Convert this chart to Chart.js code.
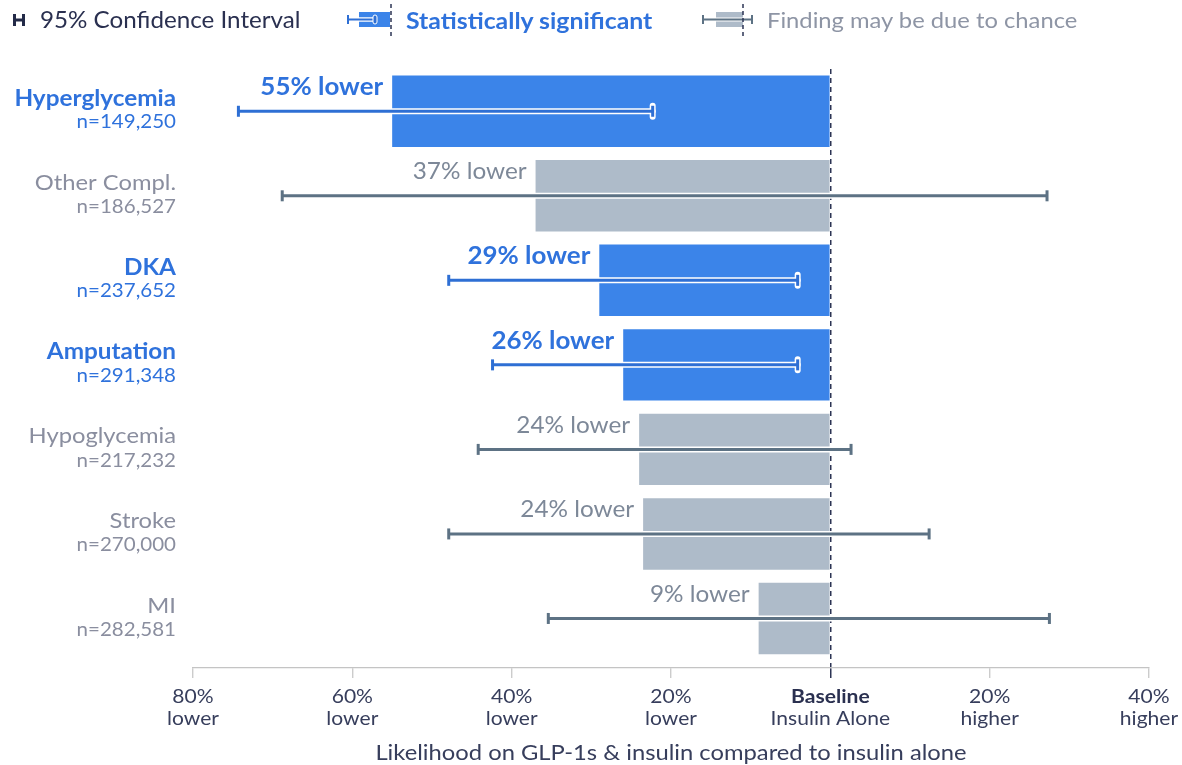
<!DOCTYPE html>
<html>
<head>
<meta charset="utf-8">
<script src="https://cdn.jsdelivr.net/npm/chart.js@4.4.1/dist/chart.umd.min.js"></script>
<style>
  html, body { margin: 0; padding: 0; background: #fff; }
  body { width: 1182px; height: 765px; position: relative; overflow: hidden; font-family: Lato, "Noto Sans", sans-serif; }
  #wrap { position: absolute; left: 0; top: 0; width: 1182px; height: 765px; }
  #legend { position: absolute; top: 0; left: 0; width: 1182px; height: 42px; }
  .li { position: absolute; top: 7px; white-space: nowrap; line-height: 26px; transform: scaleX(1.08); transform-origin: 0 50%; }
  .ico { position: absolute; }
</style>
</head>
<body>
<div id="wrap"><canvas id="c" width="1182" height="765"></canvas></div>
<div id="legend">
  <svg class="ico" style="left:13px;top:13px" width="12" height="14" viewBox="0 0 12 14">
    <line x1="1.5" y1="1" x2="1.5" y2="13" stroke="#232a48" stroke-width="3"/>
    <line x1="10.5" y1="1" x2="10.5" y2="13" stroke="#232a48" stroke-width="3"/>
    <line x1="1" y1="7" x2="11" y2="7" stroke="#232a48" stroke-width="3"/>
  </svg>
  <div class="li" style="left:40px;color:#2a3050;font-size:22.4px">95% Confidence Interval</div>

  <svg class="ico" style="left:345px;top:4px" width="52" height="32" viewBox="0 0 52 32">
    <rect x="14" y="8" width="31" height="15" fill="#3b84e9"/>
    <line x1="3" y1="15.5" x2="30" y2="15.5" stroke="#ffffff" stroke-width="4.5"/>
    <line x1="3" y1="15.5" x2="30" y2="15.5" stroke="#2e6fd4" stroke-width="2"/>
    <line x1="3" y1="11" x2="3" y2="20" stroke="#2e6fd4" stroke-width="2"/>
    <rect x="28" y="11" width="4" height="9" rx="2" fill="#2e6fd4" stroke="#ffffff" stroke-width="1"/>
    <line x1="46" y1="0" x2="46" y2="32" stroke="#2c3454" stroke-width="1.5" stroke-dasharray="4,3"/>
  </svg>
  <div class="li" style="left:406px;color:#2f72dc;font-weight:bold;font-size:23px">Statistically significant</div>

  <svg class="ico" style="left:700px;top:4px" width="56" height="32" viewBox="0 0 56 32">
    <rect x="16" y="8" width="27" height="15" fill="#aebbc9"/>
    <line x1="3" y1="15.5" x2="52" y2="15.5" stroke="#ffffff" stroke-width="4"/>
    <line x1="3" y1="15.5" x2="52" y2="15.5" stroke="#5d7284" stroke-width="2"/>
    <line x1="3" y1="11" x2="3" y2="20" stroke="#5d7284" stroke-width="2"/>
    <line x1="52" y1="11" x2="52" y2="20" stroke="#5d7284" stroke-width="2"/>
    <line x1="43" y1="0" x2="43" y2="32" stroke="#2c3454" stroke-width="1.5" stroke-dasharray="4,3"/>
  </svg>
  <div class="li" style="left:767px;color:#8e95a5;font-size:22px">Finding may be due to chance</div>
</div>
<script>
// ---- data ----
const categories = ["Hyperglycemia", "Other Compl.", "DKA", "Amputation", "Hypoglycemia", "Stroke", "MI"];
const sampleSizes = ["n=149,250", "n=186,527", "n=237,652", "n=291,348", "n=217,232", "n=270,000", "n=282,581"];
const changePct = [-55, -37, -29, -26, -24, -23.5, -9];
const ciLow = [-74.3, -68.8, -47.9, -42.4, -44.2, -47.9, -35.4];
const ciHigh = [-22.3, 27.2, -4.1, -4.1, 2.6, 12.4, 27.5];
const significant = [true, false, true, true, false, false, false];
const valueLabels = ["55% lower", "37% lower", "29% lower", "26% lower", "24% lower", "24% lower", "9% lower"];
const tickValues = [-80, -60, -40, -20, 0, 20, 40];
const tickLine1 = ["80%", "60%", "40%", "20%", "Baseline", "20%", "40%"];
const tickLine2 = ["lower", "lower", "lower", "lower", "Insulin Alone", "higher", "higher"];
const axisTitle = "Likelihood on GLP-1s & insulin compared to insulin alone";

const BLUE_BAR = "#3b84e9", GRAY_BAR = "#aebbc9";
const BLUE_CI = "#2e6fd4", GRAY_CI = "#5d7284";
const BLUE_TXT = "#2f72dc", GRAY_TXT = "#8a8e9f", GRAY_VAL = "#7d8898";
const AXIS_TXT = "#373e5c", DARK = "#2a3050";
const FONT = "Lato, 'Noto Sans', sans-serif";
const STRETCH = 1.08;

function stretchText(ctx, text, x, y) {
  ctx.save();
  ctx.translate(x, y);
  ctx.scale(STRETCH, 1);
  ctx.fillText(text, 0, 0);
  ctx.restore();
}

const labelPlugin = {
  id: "labels",
  afterDatasetsDraw(chart) {
    const ctx = chart.ctx;
    const xs = chart.scales.x, ys = chart.scales.y;
    ctx.save();
    // error bars
    for (let i = 0; i < categories.length; i++) {
      const cy = ys.getPixelForValue(i);
      const x1 = xs.getPixelForValue(ciLow[i]);
      const x2 = xs.getPixelForValue(ciHigh[i]);
      const col = significant[i] ? BLUE_CI : GRAY_CI;
      ctx.strokeStyle = "#ffffff";
      ctx.lineCap = "round";
      ctx.lineWidth = 6;
      ctx.beginPath(); ctx.moveTo(x1, cy); ctx.lineTo(x2, cy); ctx.stroke();
      ctx.beginPath(); ctx.moveTo(x1, cy - 5.5); ctx.lineTo(x1, cy + 5.5); ctx.stroke();
      ctx.beginPath(); ctx.moveTo(x2, cy - 5.5); ctx.lineTo(x2, cy + 5.5); ctx.stroke();
      ctx.strokeStyle = col;
      ctx.lineCap = "butt";
      ctx.lineWidth = 3;
      ctx.beginPath(); ctx.moveTo(x1, cy); ctx.lineTo(x2, cy); ctx.stroke();
      ctx.beginPath(); ctx.moveTo(x1, cy - 5.5); ctx.lineTo(x1, cy + 5.5); ctx.stroke();
      ctx.beginPath(); ctx.moveTo(x2, cy - 5.5); ctx.lineTo(x2, cy + 5.5); ctx.stroke();
    }
    // value labels
    ctx.textAlign = "right";
    ctx.textBaseline = "middle";
    for (let i = 0; i < categories.length; i++) {
      const cy = ys.getPixelForValue(i);
      const bx = xs.getPixelForValue(changePct[i]);
      ctx.font = (significant[i] ? "bold 24px " : "22.5px ") + FONT;
      ctx.fillStyle = significant[i] ? BLUE_TXT : GRAY_VAL;
      stretchText(ctx, valueLabels[i], bx - 9, cy - 24);
    }
    // category labels
    for (let i = 0; i < categories.length; i++) {
      const cy = ys.getPixelForValue(i);
      ctx.fillStyle = significant[i] ? BLUE_TXT : GRAY_TXT;
      ctx.font = (significant[i] ? "bold 22.5px " : "22px ") + FONT;
      stretchText(ctx, categories[i], 176, cy - 13);
      ctx.font = "19px " + FONT;
      stretchText(ctx, sampleSizes[i], 176, cy + 11);
    }
    // x tick labels (two lines) and axis title
    ctx.textAlign = "center";
    for (let i = 0; i < tickValues.length; i++) {
      const px = xs.getPixelForValue(tickValues[i]);
      const isBase = tickValues[i] === 0;
      ctx.fillStyle = isBase ? DARK : AXIS_TXT;
      ctx.font = (isBase ? "bold 19.5px " : "19.5px ") + FONT;
      stretchText(ctx, tickLine1[i], px, xs.top + 28.5);
      ctx.font = "19.5px " + FONT;
      ctx.fillStyle = AXIS_TXT;
      stretchText(ctx, tickLine2[i], px, xs.top + 51);
    }
    ctx.font = "22px " + FONT;
    ctx.fillStyle = AXIS_TXT;
    stretchText(ctx, axisTitle, (xs.left + xs.right) / 2, xs.top + 85);
    ctx.restore();
  }
};

new Chart(document.getElementById("c"), {
  type: "bar",
  data: {
    datasets: [{
      data: changePct.map((v, i) => ({ x: v, y: i })),
      backgroundColor: significant.map(s => s ? BLUE_BAR : GRAY_BAR),
      borderWidth: 0,
      barPercentage: 0.845,
      categoryPercentage: 1
    }]
  },
  plugins: [labelPlugin],
  options: {
    indexAxis: "y",
    responsive: false,
    animation: false,
    devicePixelRatio: 1,
    layout: { padding: { left: 193, right: 33, top: 69, bottom: 0 } },
    plugins: { legend: { display: false }, tooltip: { enabled: false } },
    scales: {
      y: {
        type: "linear",
        reverse: true,
        offset: false,
        min: -0.5,
        max: 6.586,
        display: false,
        grid: { offset: false },
        afterBuildTicks(scale) { scale.ticks = [{ value: -0.5 }, { value: 6.586 }]; }
      },
      x: {
        type: "linear",
        position: "bottom",
        min: -80, max: 40,
        afterBuildTicks(scale) { scale.ticks = tickValues.map(v => ({ value: v })); },
        afterFit(scale) { scale.height = 97; },
        grid: {
          drawOnChartArea: true,
          color: ctx => (ctx.tick && ctx.tick.value === 0) ? "#2c3454" : "rgba(0,0,0,0)",
          lineWidth: 1.5,
          tickLength: 10,
          tickColor: ctx => (ctx.tick && ctx.tick.value === 0) ? "#2c3454" : "#c4c4c4",
          tickWidth: ctx => (ctx.tick && ctx.tick.value === 0) ? 1.5 : 1.2
        },
        border: { display: true, color: "#c4c4c4", width: 1.2, dash: [5, 4] },
        ticks: { display: false, autoSkip: false }
      }
    }
  }
});
</script>
</body>
</html>
